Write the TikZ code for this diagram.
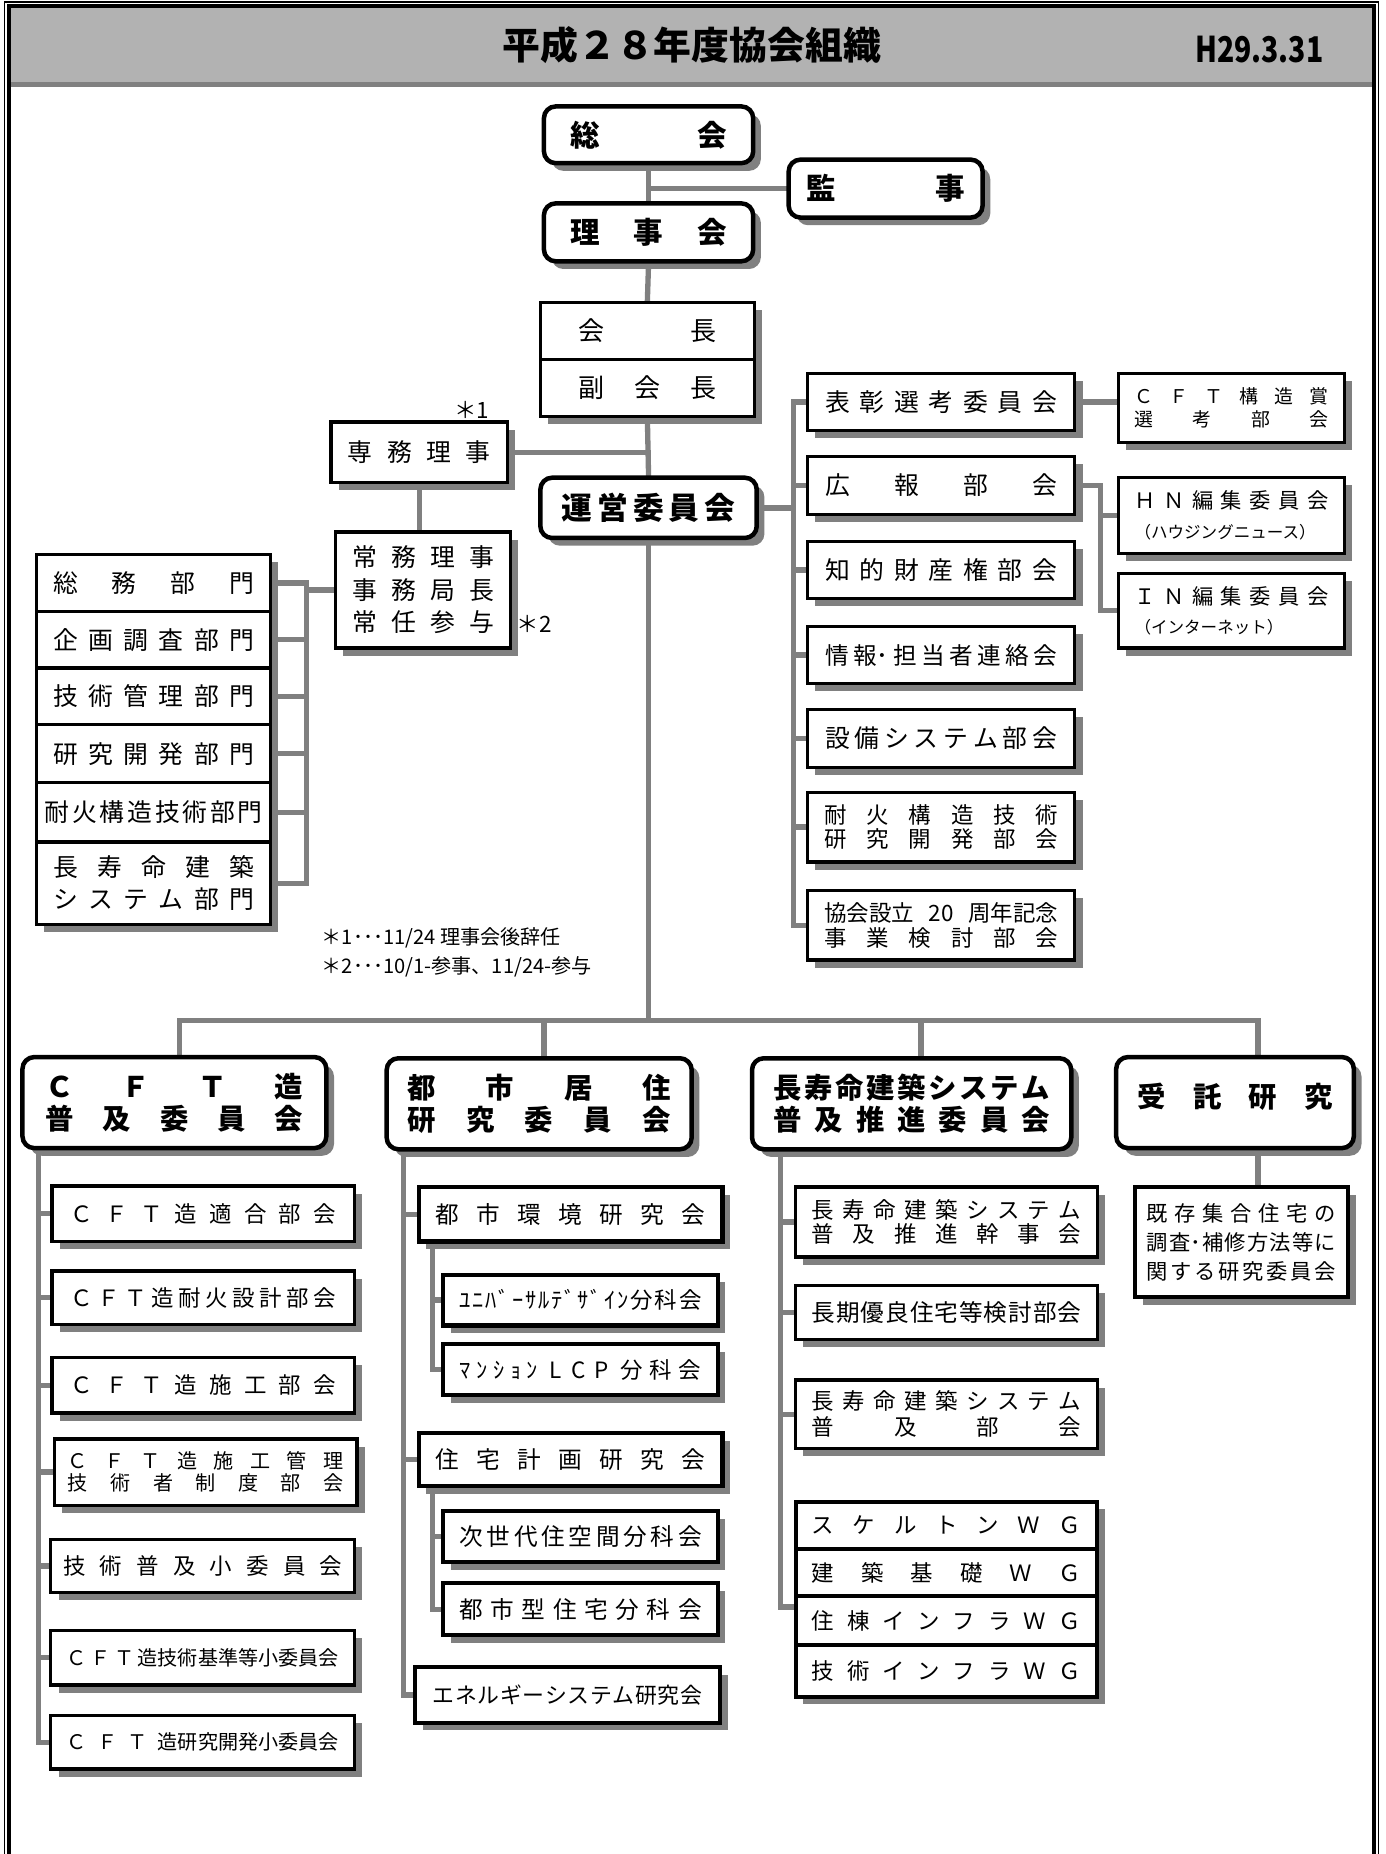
\documentclass[tikz,border=0pt]{standalone}
\usepackage{fontspec}
\setmainfont{Noto Sans CJK JP}
\usepackage{graphicx}
\usetikzlibrary{shadows,backgrounds}
\definecolor{lg}{RGB}{128,128,128}
\definecolor{tg}{RGB}{178,178,178}
\makeatletter
\def\spr@#1#2\spr@end{#1\ifx\relax#2\relax\else\hfill\spr@#2\spr@end\fi}
\newcommand\spr[2]{\hbox to #1pt{\spr@#2\spr@end}}
\makeatother
\newcommand\fs[1]{\fontsize{#1}{#1}\selectfont}
\newcommand\fsb[2]{\fontsize{#1}{#2}\selectfont\lineskiplimit=-1000pt\relax}
\newcommand\B[7][sbox]{\node[#1,minimum width={#4-#2},minimum height={#5-#3}] (#6) at ({(#2+#4)/2},{(#3+#5)/2}) {#7};}
\tikzset{
 shd/.style={drop shadow={shadow xshift=6.5pt,shadow yshift=-6.5pt,fill=lg,opacity=1}},
 sbox/.style={draw=black,line width=2.8pt,fill=white,inner sep=0pt,shd},
 tbox/.style={sbox,line width=3.5pt},
 rbox/.style={draw=black,line width=3.8pt,fill=white,inner sep=0pt,rounded corners=10pt,shd,font=\bfseries},
 conn/.style={draw=lg,line width=4.5pt,line cap=rect},
 txt/.style={inner sep=0pt}
}
\begin{document}
\begin{tikzpicture}[x=1pt,y=-1pt]
\useasboundingbox (0,0) rectangle (1172,1568);
\begin{pgfonlayer}{background}
\fill[white] (0,0) rectangle (1172,1568);
\end{pgfonlayer}
\fill[tg] (9.5,7) rectangle (1160.5,69);
\fill[lg] (9.5,69) rectangle (1160.5,74);
\draw[line width=1.2pt] (3.8,1580) -- (3.8,1.7) -- (1166,1.7) -- (1166,1580);
\draw[line width=3.5pt] (7.7,1580) -- (7.7,5.2) -- (1162.3,5.2) -- (1162.3,1580);
\node[txt] (title) at (585,38) {\fs{32}\bfseries 平成２８年度協会組織};
\node[txt] (date) at (1065,42) {\scalebox{0.8}[1]{\fs{30}\bfseries H29.3.31}};
% top
\B[rbox]{460}{90}{637}{138}{soukai}{\fs{25}\spr{132}{総会}}
\B[rbox]{667}{135}{831}{184}{kanji}{\fs{25}\spr{134}{監事}}
\B[rbox]{460}{172}{637}{221}{rijikai}{\fs{25}\spr{132}{理事会}}
\B{457}{256}{638}{304}{kaichou}{\fs{22}\spr{117}{会長}}
\B{457}{304}{638}{352}{fuku}{\fs{22}\spr{117}{副会長}}
\B{280}{357}{429}{408}{senmu}{\fs{21}\spr{121}{専務理事}}
\B[rbox]{457}{404}{640}{455}{uneii}{\fs{26}\spr{147}{運営委員会}}
\B{284}{450}{432}{548}{joumu}{\vbox{\fsb{21}{27.5}\spr{120}{常務理事}\spr{120}{事務局長}\spr{120}{常任参与}}}
\node[txt] (st1) at (399,347) {\fs{19}＊1};
\node[txt] (st2) at (452,528) {\fs{19}＊2};
% left column
\B{31}{469}{229}{517}{soumu}{\fs{21}\spr{170}{総務部門}}
\B{31}{517}{229}{565}{kikaku}{\fs{21}\spr{170}{企画調査部門}}
\B{31}{565}{229}{613}{gijutsu}{\fs{21}\spr{170}{技術管理部門}}
\B{31}{613}{229}{662}{kenkyu}{\fs{21}\spr{170}{研究開発部門}}
\B{31}{662}{229}{712}{taika}{\fs{21}\spr{184}{耐火構造技術部門}}
\B{31}{712}{229}{782}{chojubu}{\vbox{\fsb{21}{27}\spr{170}{長寿命建築}\spr{170}{システム部門}}}
\node[txt,anchor=west] (fn1) at (272,793) {\fs{17}＊1･･･11/24 理事会後辞任};
\node[txt,anchor=west] (fn2) at (272,818) {\fs{17}＊2･･･10/1-参事、11/24-参与};
% right column
\B{683}{316}{909}{364}{hyoushou}{\fs{21}\spr{196}{表彰選考委員会}}
\B{683}{386}{909}{435}{kouhou}{\fs{21}\spr{196}{広報部会}}
\B{683}{458}{909}{506}{chiteki}{\fs{21}\spr{196}{知的財産権部会}}
\B{683}{530}{909}{578}{jouhou}{\fs{20}\spr{196}{情{報･}担当者連絡会}}
\B{683}{600}{909}{649}{setsubi}{\fs{21}\spr{196}{設備システム部会}}
\B{683}{670}{909}{729}{taikaken}{\vbox{\fsb{19}{21}\spr{198}{耐火構造技術}\spr{198}{研究開発部会}}}
\B{683}{753}{909}{812}{kyokai}{\vbox{\fsb{19}{21}\hbox to 198pt{協会設立\hfill 20\hfill 周年記念}\spr{198}{事業検討部会}}}
\B{946}{316}{1137}{374}{cftshou}{\vbox{\fsb{16}{20}\spr{164}{ＣＦＴ構造賞}\spr{164}{選考部会}}}
\B{946}{404}{1137}{468}{hn}{\vbox{\fsb{18}{25}\spr{164}{ＨＮ編集委員会}\hbox to 164pt{\fs{14}（ハウジングニュース）\hfil}}}
\B{946}{485}{1137}{548}{inb}{\vbox{\fsb{18}{25}\spr{164}{ＩＮ編集委員会}\hbox to 164pt{\fs{14}（インターネット）\hfil}}}
% committees
\B[rbox]{19}{894}{276}{971}{cftfu}{\vbox{\fsb{24}{27}\spr{218}{ＣＦＴ造}\spr{218}{普及委員会}}}
\B[rbox]{327}{895}{585}{972}{toshi}{\vbox{\fsb{24}{27}\spr{222}{都市居住}\spr{222}{研究委員会}}}
\B[rbox]{636}{895}{906}{972}{chojucom}{\vbox{\fsb{24}{27}\spr{234}{長寿命建築システム}\spr{234}{普及推進委員会}}}
\B[rbox]{944}{894}{1145}{971}{jutakuken}{\vbox{\fs{24}\spr{165}{受託研究}\vskip10pt}}
% column 1
\B{44}{1003}{300}{1050}{cft1}{\fs{19}\spr{224}{ＣＦＴ造適合部会}}
\B{44}{1075}{300}{1120}{cft2}{\fs{19}\spr{224}{ＣＦＴ造耐火設計部会}}
\B{44}{1148}{300}{1195}{cft3}{\fs{19}\spr{224}{ＣＦＴ造施工部会}}
\B{46}{1217}{302}{1273}{cft4}{\vbox{\fsb{17}{19}\spr{233}{ＣＦＴ造施工管理}\spr{233}{技術者制度部会}}}
\B{43}{1302}{300}{1347}{cft5}{\fs{19}\spr{236}{技術普及小委員会}}
\B{43}{1379}{300}{1425}{cft6}{\fs{17}\hbox to 230pt{Ｃ\hfill Ｆ\hfill Ｔ\hfill 造技術基準等小委員会}}
\B{43}{1451}{300}{1496}{cft7}{\fs{17}\hbox to 230pt{Ｃ\hfill Ｆ\hfill Ｔ\hfill 造研究開発小委員会}}
% column 2
\B[tbox]{354}{1004}{611}{1050}{toshikan}{\fs{20}\spr{228}{都市環境研究会}}
\B[tbox]{375}{1078}{607}{1121}{univ}{\fs{19}\spr{205}{ﾕﾆﾊﾞｰｻﾙﾃﾞｻﾞｲﾝ分科会}}
\B[tbox]{375}{1137}{607}{1180}{lcp}{\fs{19}\hbox to 204pt{\spr{66}{ﾏﾝｼｮﾝ}\hfill\spr{50}{LCP}\hfill\spr{68}{分科会}}}
\B[tbox]{354}{1212}{611}{1257}{jutaku}{\fs{20}\spr{228}{住宅計画研究会}}
\B[tbox]{375}{1278}{607}{1321}{jisedai}{\fs{20}\spr{205}{次世代住空間分科会}}
\B[tbox]{375}{1339}{607}{1383}{toshigata}{\fs{20}\spr{205}{都市型住宅分科会}}
\B[tbox]{351}{1410}{609}{1457}{energy}{\fs{18.5}\spr{228}{エネルギーシステム研究会}}
% column 3
\B{673}{1004}{928}{1063}{kanjikai}{\vbox{\fsb{19}{20.5}\spr{228}{長寿命建築システム}\spr{228}{普及推進幹事会}}}
\B{673}{1087}{928}{1133}{chouki}{\fs{20}\spr{228}{長期優良住宅等検討部会}}
\B{673}{1167}{928}{1225}{fukyubu}{\vbox{\fsb{19}{22}\spr{228}{長寿命建築システム}\spr{228}{普及部会}}}
\B[tbox]{673}{1270}{928}{1310}{skel}{\fs{19}\spr{228}{スケルトンＷＧ}}
\B[tbox]{673}{1310}{928}{1350}{kiso}{\fs{19}\spr{228}{建築基礎ＷＧ}}
\B[tbox]{673}{1350}{928}{1391}{jutou}{\fs{19}\spr{228}{住棟インフラＷＧ}}
\B[tbox]{673}{1391}{928}{1435}{ginfra}{\fs{19}\spr{228}{技術インフラＷＧ}}
% column 4
\B{960}{1004}{1140}{1097}{kison}{\vbox{\fsb{18}{24.5}\spr{160}{既存集合住宅の}\spr{160}{調{査･}補修方法等に}\spr{160}{関する研究委員会}}}
% connectors
\begin{pgfonlayer}{background}
\draw[conn] (soukai.south) -- (rijikai.north);
\draw[conn] (kanji.west) -- (kanji.west -| soukai.south);
\draw[conn] (rijikai.south) -- (kaichou.north);
\draw[conn] (fuku.south) -- (uneii.north);
\draw[conn] (senmu.east) -- (senmu.east -| uneii.north);
\draw[conn] (senmu.south) -- (senmu.south |- joumu.north);
\coordinate (lbar) at (259,0);
\draw[conn] (soumu.east -| lbar) -- (chojubu.east -| lbar);
\foreach \n in {soumu,kikaku,gijutsu,kenkyu,taika,chojubu} \draw[conn] (\n.east) -- (\n.east -| lbar);
\draw[conn] (joumu.west) -- (joumu.west -| lbar);
\coordinate (rbar) at (671,0);
\draw[conn] (uneii.east) -- (uneii.east -| rbar);
\draw[conn] (hyoushou.west -| rbar) -- (kyokai.west -| rbar);
\foreach \n in {hyoushou,kouhou,chiteki,jouhou,setsubi,taikaken,kyokai} \draw[conn] (\n.west -| rbar) -- (\n.west);
\draw[conn] (hyoushou.east) -- (hyoushou.east -| cftshou.west);
\coordinate (kbar) at (931,0);
\draw[conn] (kouhou.east) -- (kouhou.east -| kbar) -- (inb.west -| kbar) -- (inb.west);
\draw[conn] (hn.west -| kbar) -- (hn.west);
\coordinate (d1) at (152,863);
\coordinate (d2) at (460,863);
\coordinate (d3) at (779,863);
\coordinate (d4) at (1064,863);
\draw[conn] (uneii.south) -- (uneii.south |- d1);
\draw[conn] (d1) -- (d4);
\draw[conn] (d1) -- (d1 |- cftfu.north);
\draw[conn] (d2) -- (d2 |- toshi.north);
\draw[conn] (d3) -- (d3 |- chojucom.north);
\draw[conn] (d4) -- (d4 |- jutakuken.north);
\coordinate (c1) at (32.5,0);
\draw[conn] (cftfu.south -| c1) -- (cft7.west -| c1);
\foreach \n in {cft1,cft2,cft3,cft4,cft5,cft6,cft7} \draw[conn] (\n.west -| c1) -- (\n.west);
\coordinate (c2) at (341,0);
\draw[conn] (toshi.south -| c2) -- (energy.west -| c2);
\foreach \n in {toshikan,jutaku,energy} \draw[conn] (\n.west -| c2) -- (\n.west);
\coordinate (s2) at (366,0);
\draw[conn] (toshikan.south -| s2) -- (lcp.west -| s2);
\foreach \n in {univ,lcp} \draw[conn] (\n.west -| s2) -- (\n.west);
\draw[conn] (jutaku.south -| s2) -- (toshigata.west -| s2);
\foreach \n in {jisedai,toshigata} \draw[conn] (\n.west -| s2) -- (\n.west);
\coordinate (wgt) at (660,1359);
\draw[conn] (chojucom.south -| wgt) -- (wgt) -- (wgt -| jutou.west);
\coordinate (c3) at (660,0);
\foreach \n in {kanjikai,chouki,fukyubu} \draw[conn] (\n.west -| c3) -- (\n.west);
\draw[conn] (jutakuken.south -| d4) -- (kison.north -| d4);
\end{pgfonlayer}
\end{tikzpicture}
\end{document}
